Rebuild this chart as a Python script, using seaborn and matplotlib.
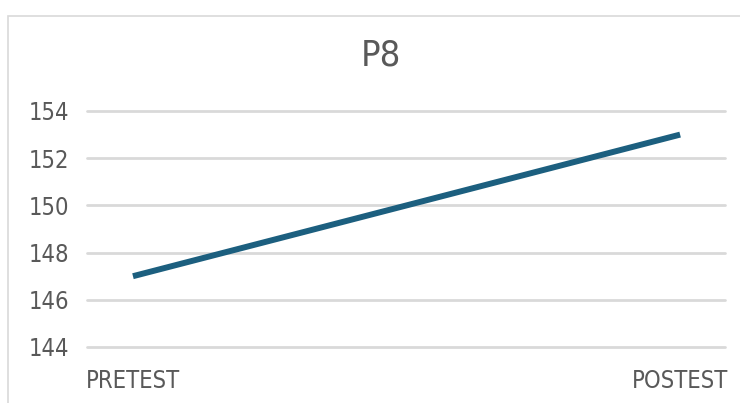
import matplotlib
matplotlib.use("Agg")
import matplotlib.pyplot as plt
import seaborn as sns
import pandas as pd
from matplotlib.patches import Rectangle

# data
tests = ["PRETEST", "POSTEST"]
scores = [147, 153]
yticks = [144, 146, 148, 150, 152, 154]

df = pd.DataFrame({"test": tests, "score": scores, "pos": [0, 1]})

sns.set_theme(style="white")
plt.rcParams["font.family"] = ["DejaVu Sans"]

fig = plt.figure(figsize=(7.4, 4.03), dpi=100)
# light frame of the chart area
fig.patches.append(Rectangle((8 / 740, -0.1), 1.1, 1 - 16 / 403 + 0.1,
                             transform=fig.transFigure, fill=False,
                             edgecolor="#d9d9d9", linewidth=1.2))

ax = fig.add_axes([87 / 740, 1 - 347 / 403, (725 - 87) / 740, (347 - 111) / 403])
sns.lineplot(data=df, x="pos", y="score", color="#1c5f7f", linewidth=4.3, ax=ax,
             solid_capstyle="butt")

ax.set_xlim(-0.084, 1.082)
ax.set_ylim(144, 154)
ax.set_yticks(yticks)
ax.set_xticks([0, 1])
ax.set_xticklabels(tests)
ax.yaxis.grid(True, color="#d9d9d9", linewidth=2)
ax.set_axisbelow(True)
for gl in ax.get_ygridlines():
    gl.set_clip_on(False)
for s in ax.spines.values():
    s.set_visible(False)
ax.tick_params(axis="both", length=0, labelcolor="#595959")
for lab in ax.get_yticklabels() + ax.get_xticklabels():
    lab.set_fontsize(17)
    lab.set_fontstretch("condensed")
ax.tick_params(axis="y", pad=42)
ax.tick_params(axis="x", pad=16)
for lab in ax.get_yticklabels():
    lab.set_horizontalalignment("left")
ax.set_xlabel("")
ax.set_ylabel("")

fig.text(381 / 740, 1 - 55 / 403, "P8", ha="center", va="center",
         fontsize=26, color="#595959", fontstretch="condensed")

fig.savefig("out.png", dpi=100)
